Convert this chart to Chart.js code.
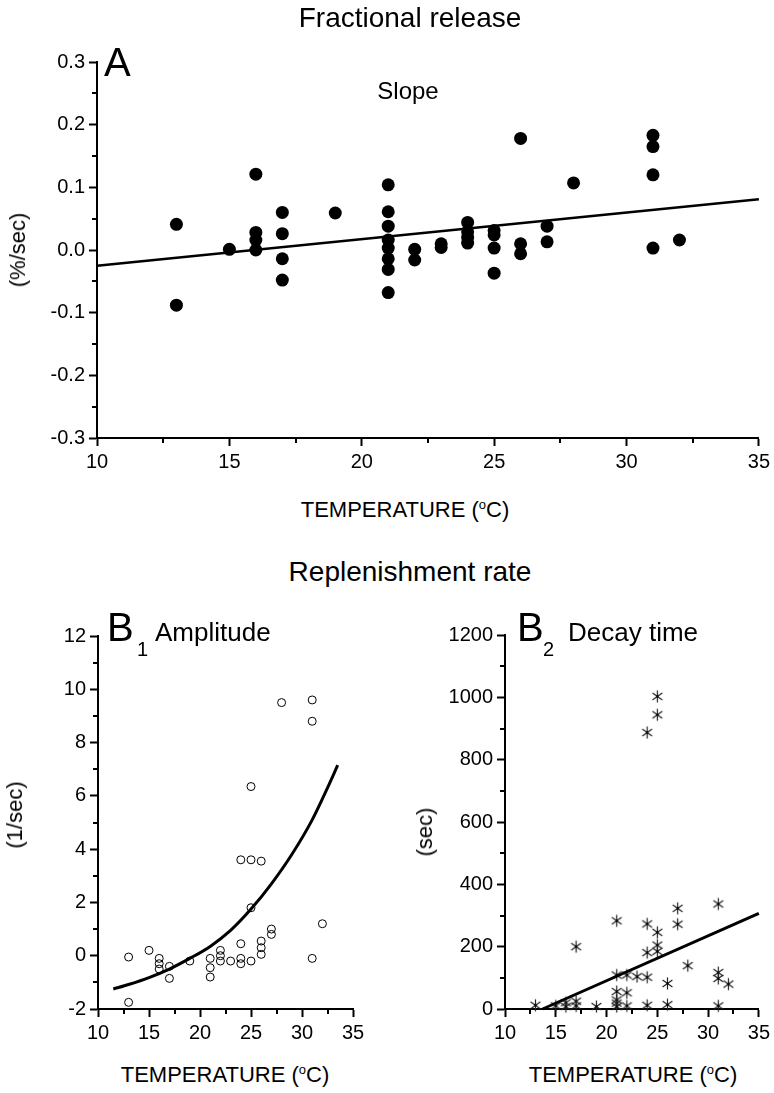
<!DOCTYPE html>
<html>
<head>
<meta charset="utf-8">
<script src="https://cdn.jsdelivr.net/npm/chart.js@4"></script>
<style>
  html, body { margin: 0; padding: 0; background: #fff; }
  #page { position: relative; width: 774px; height: 1093px; overflow: hidden; font-family: "Liberation Sans", Arial, sans-serif; color: #000; }
  canvas { position: absolute; }
  .t { position: absolute; line-height: 1; white-space: nowrap; }
  .c { transform: translateX(-50%); }
  .r { transform: translate(-50%, -50%) rotate(-90deg); }
</style>
</head>
<body>
<div id="page">
  <canvas id="chartA" width="774" height="482" style="left:0;top:0"></canvas>
  <canvas id="chartB1" width="380" height="450" style="left:0;top:600px"></canvas>
  <canvas id="chartB2" width="384" height="450" style="left:390px;top:600px"></canvas>

  <div class="t c" style="left:410px;top:4px;font-size:28px">Fractional release</div>
  <div class="t" style="left:104px;top:42px;font-size:40px">A</div>
  <div class="t c" style="left:408px;top:79px;font-size:24px">Slope</div>
  <div class="t r" style="left:18px;top:250px;font-size:22px">(%/sec)</div>
  <div class="t c" style="left:405px;top:498px;font-size:22px">TEMPERATURE (<sup style="font-size:13px">o</sup>C)</div>

  <div class="t c" style="left:410px;top:558px;font-size:28px">Replenishment rate</div>
  <div class="t" style="left:107px;top:607px;font-size:40px">B</div>
  <div class="t" style="left:137px;top:639px;font-size:20px">1</div>
  <div class="t" style="left:155px;top:619px;font-size:26px">Amplitude</div>
  <div class="t r" style="left:15px;top:815px;font-size:22px">(1/sec)</div>
  <div class="t c" style="left:225px;top:1063px;font-size:22px">TEMPERATURE (<sup style="font-size:13px">o</sup>C)</div>

  <div class="t" style="left:517px;top:607px;font-size:40px">B</div>
  <div class="t" style="left:543px;top:639px;font-size:20px">2</div>
  <div class="t" style="left:568px;top:619px;font-size:26px">Decay time</div>
  <div class="t r" style="left:425px;top:832px;font-size:22px">(sec)</div>
  <div class="t c" style="left:633px;top:1063px;font-size:22px">TEMPERATURE (<sup style="font-size:13px">o</sup>C)</div>
</div>
<script>
// Panel A - fractional release slope
const aTemp = [13, 13, 15, 16, 16, 16, 16, 17, 17, 17, 17, 19,
  21, 21, 21, 21, 21, 21, 21, 21, 22, 22, 23, 23,
  24, 24, 24, 24, 25, 25, 25, 25, 26, 26, 26, 27, 27, 28,
  31, 31, 31, 31, 32];
const aSlope = [0.041, -0.088, 0.001, 0.121, 0.028, 0.016, 0.0, 0.060, 0.026, -0.014, -0.048, 0.059,
  0.104, 0.061, 0.038, 0.016, 0.003, -0.014, -0.031, -0.068, 0.001, -0.016, 0.010, 0.004,
  0.044, 0.029, 0.020, 0.011, 0.031, 0.024, 0.003, -0.037, 0.178, 0.010, -0.006, 0.038, 0.013, 0.107,
  0.183, 0.165, 0.120, 0.003, 0.016];
const aFitTemp = [10, 35];
const aFitVal = [-0.025, 0.081];
const aMinorX = [12.5, 17.5, 22.5, 27.5, 32.5];
const aMinorY = [-0.25, -0.15, -0.05, 0.05, 0.15, 0.25];

// Panel B1 - replenishment amplitude
const b1Temp = [13, 13, 15, 16, 16, 16, 17, 17, 19, 21, 21, 21, 22, 22, 22, 23,
  24, 24, 24, 24, 25, 25, 25, 25, 26, 26, 26, 26, 27, 27, 28, 31, 31, 31, 32];
const b1Amp = [-0.05, -1.75, 0.2, -0.1, -0.3, -0.5, -0.4, -0.85, -0.2, -0.1, -0.45, -0.8, 0.2, 0.0, -0.2, -0.2,
  3.6, 0.45, -0.1, -0.3, 6.35, 3.6, 1.8, -0.2, 3.55, 0.55, 0.3, 0.05, 1.0, 0.8, 9.5, 9.6, 8.8, -0.1, 1.2];
const b1CurveTemp = [11.5, 13, 15, 17, 19, 21, 23, 25, 27, 29, 31, 32.5, 33.5];
const b1CurveVal = [-1.25, -1.08, -0.82, -0.5, -0.1, 0.35, 0.95, 1.75, 2.7, 3.8, 5.1, 6.3, 7.15];
const b1MinorX = [12.5, 17.5, 22.5, 27.5, 32.5];
const b1MinorY = [-1, 1, 3, 5, 7, 9, 11];

// Panel B2 - replenishment decay time
const b2Temp = [13, 15, 16, 16, 17, 17, 17, 19, 21, 21, 21, 21, 21, 21, 22, 22, 22, 23,
  24, 24, 24, 24, 24, 25, 25, 25, 25, 25, 26, 26, 27, 27, 28, 31, 31, 31, 31, 32];
const b2Decay = [12, 10, 20, 8, 200, 25, 10, 8, 283, 109, 56, 29, 19, 8, 109, 52, 10, 104,
  887, 273, 181, 102, 12, 1003, 944, 246, 205, 185, 82, 14, 323, 272, 139, 337, 117, 98, 10, 80];
const b2FitTemp = [13.7, 35];
const b2FitVal = [0, 307];
const b2MinorX = [12.5, 17.5, 22.5, 27.5, 32.5];
const b2MinorY = [100, 300, 500, 700, 900, 1100];

const FONT = 'Liberation Sans';

const minorTicks = {
  id: 'minorTicks',
  afterDraw(chart, args, opts) {
    const ctx = chart.ctx;
    const xs = chart.scales.x, ys = chart.scales.y;
    ctx.save();
    ctx.strokeStyle = '#000';
    ctx.lineWidth = 2;
    ctx.beginPath();
    (opts.x || []).forEach(v => {
      const px = Math.round(xs.getPixelForValue(v));
      ctx.moveTo(px, xs.top);
      ctx.lineTo(px, xs.top + 5);
    });
    (opts.y || []).forEach(v => {
      const py = Math.round(ys.getPixelForValue(v));
      ctx.moveTo(ys.right - 5, py);
      ctx.lineTo(ys.right, py);
    });
    ctx.stroke();
    ctx.restore();
  }
};

function toPts(xs, ys) {
  return xs.map((x, i) => ({ x: x, y: ys[i] }));
}

function axis(min, max, step, size, fmt) {
  return {
    type: 'linear',
    min: min,
    max: max,
    afterFit: (s) => {
      if (s.isHorizontal()) s.height = size; else s.width = size;
    },
    ticks: {
      stepSize: step,
      color: '#000',
      padding: 4,
      maxRotation: 0,
      autoSkip: false,
      font: { family: FONT, size: 20 },
      callback: fmt || ((v) => String(v))
    },
    grid: {
      drawOnChartArea: false,
      drawTicks: true,
      tickLength: 8,
      tickWidth: 2,
      tickColor: '#000'
    },
    border: { display: true, color: '#000', width: 2 }
  };
}

function makeChart(id, datasets, xAxis, yAxis, padding, minor) {
  return new Chart(document.getElementById(id), {
    type: 'scatter',
    data: { datasets: datasets },
    options: {
      responsive: false,
      animation: false,
      layout: { padding: padding },
      plugins: {
        legend: { display: false },
        tooltip: { enabled: false },
        minorTicks: minor
      },
      scales: { x: xAxis, y: yAxis }
    },
    plugins: [minorTicks]
  });
}

// asterisk marker for panel B2
const star = document.createElement('canvas');
star.width = 15; star.height = 15;
(function () {
  const c = star.getContext('2d');
  c.strokeStyle = '#222';
  c.lineWidth = 1.2;
  c.translate(7.5, 7.5);
  c.beginPath();
  [90, 35, 145].forEach(a => {
    const r = a * Math.PI / 180;
    c.moveTo(-6 * Math.cos(r), -6 * Math.sin(r));
    c.lineTo(6 * Math.cos(r), 6 * Math.sin(r));
  });
  c.stroke();
  c.fillStyle = '#000';
  c.fillRect(-1, -1, 2, 2);
})();

const tempAxis = (h) => axis(10, 35, 5, h);

makeChart('chartA', [
  {
    type: 'line', data: toPts(aFitTemp, aFitVal), borderColor: '#000', borderWidth: 2.5,
    pointRadius: 0, showLine: true, fill: false, clip: false
  },
  {
    data: toPts(aTemp, aSlope), pointRadius: 6.5, pointBackgroundColor: '#000',
    pointBorderWidth: 0, clip: false
  }
], tempAxis(44), axis(-0.3, 0.3, 0.1, 97, (v) => Number(v).toFixed(1)),
  { top: 62, right: 12, left: 0, bottom: 0 }, { x: aMinorX, y: aMinorY });

makeChart('chartB1', [
  {
    type: 'line', data: toPts(b1CurveTemp, b1CurveVal), borderColor: '#000', borderWidth: 3,
    pointRadius: 0, showLine: true, fill: false, cubicInterpolationMode: 'monotone', clip: false
  },
  {
    data: toPts(b1Temp, b1Amp), pointRadius: 4, pointBackgroundColor: 'rgba(0,0,0,0)',
    pointBorderColor: '#000', pointBorderWidth: 1, clip: false
  }
], tempAxis(41), axis(-2, 12, 2, 98),
  { top: 36, right: 27, left: 0, bottom: 0 }, { x: b1MinorX, y: b1MinorY });

makeChart('chartB2', [
  {
    type: 'line', data: toPts(b2FitTemp, b2FitVal), borderColor: '#000', borderWidth: 3,
    pointRadius: 0, showLine: true, fill: false, clip: false
  },
  {
    data: toPts(b2Temp, b2Decay), pointStyle: star, pointRadius: 7, clip: false
  }
], tempAxis(41), axis(0, 1200, 200, 115),
  { top: 35, right: 12, left: 0, bottom: 0 }, { x: b2MinorX, y: b2MinorY });
</script>
</body>
</html>
